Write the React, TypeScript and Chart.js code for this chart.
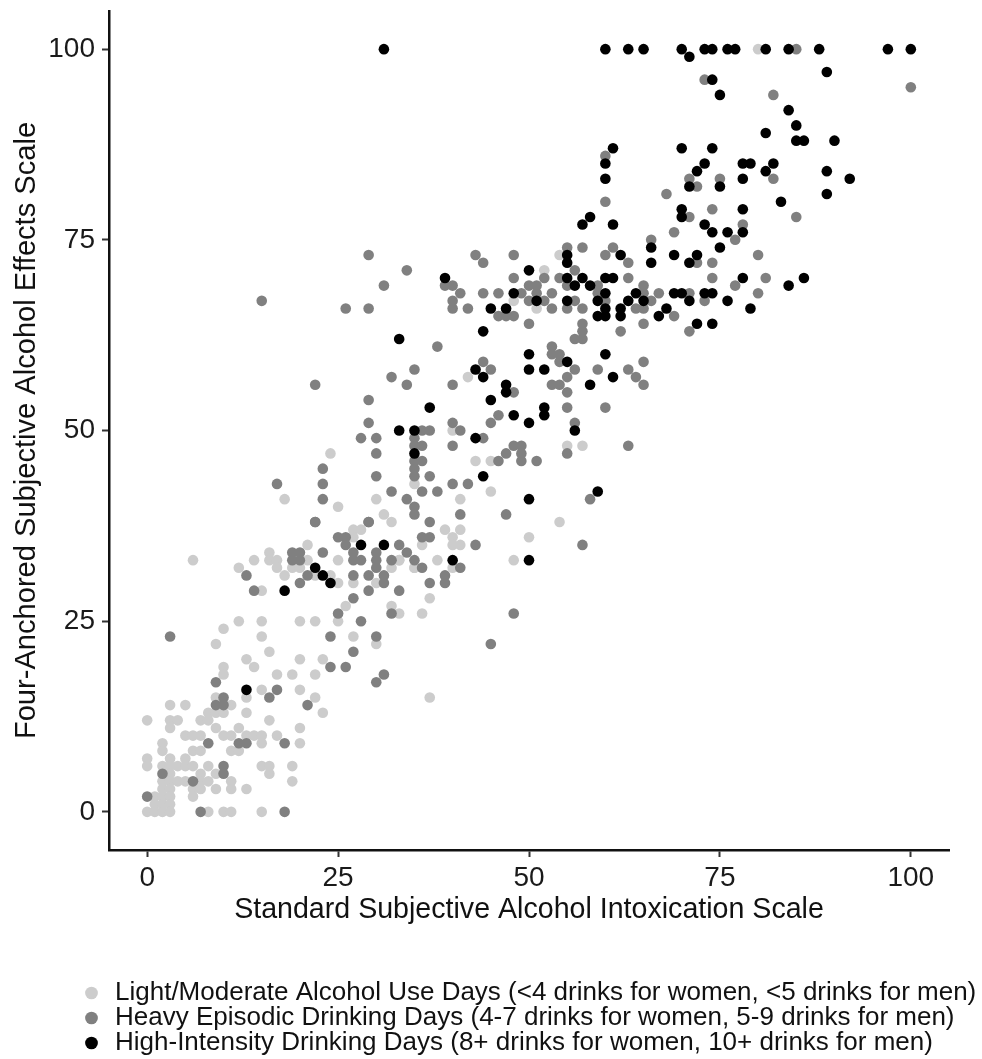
import { useEffect, useRef } from "react";
import { Chart, registerables } from "chart.js";

Chart.register(...registerables);

const seriesNames = [
  "Light/Moderate Alcohol Use Days (<4 drinks for women, <5 drinks for men)",
  "Heavy Episodic Drinking Days (4-7 drinks for women, 5-9 drinks for men)",
  "High-Intensity Drinking Days (8+ drinks for women, 10+ drinks for men)",
];
const seriesColors = ["#cccccc", "#808080", "#000000"];
const tickValues = [0, 25, 50, 75, 100];
const xTitle = "Standard Subjective Alcohol Intoxication Scale";
const yTitle = "Four-Anchored Subjective Alcohol Effects Scale";

const lightDays = [
  [6,33],[12,32],[14,33],[16,34],[16,33],[17,33],[17,32],[18,31],[19,32],[20,32],[21,35],[21,33],[22,31],[24,31],[25,33],[25,30],[27,30],[27,37],[28,37],[32,38],[32,32],[33,33],[35,32],[30,30],[15,29],[26,27],[25,25],[32,27],[33,26],[36,26],
  [12,25],[15,25],[20,25],[22,25],[10,24],[15,23],[9,22],[27,23],[30,22],[16,21],[13,20],[14,19],[20,20],[23,20],[10,19],[10,18],[17,18],[19,18],[22,18],[15,16],[20,16],[9,15],[13,15],[22,15],[3,14],[5,14],[11,14],[13,13],[23,13],[8,13],[9,13],[10,13],
  [0,12],[3,12],[4,12],[7,12],[8,12],[16,12],[3,11],[9,11],[12,11],[20,11],[5,10],[6,10],[7,10],[10,10],[11,10],[13,10],[14,10],[15,10],[17,10],[2,9],[15,9],[20,9],[2,8],[6,8],[7,8],[11,8],[12,8],[0,7],[3,7],[5,7],
  [0,6],[2,6],[3,6],[4,6],[5,6],[6,6],[8,6],[15,6],[16,6],[19,6],[3,5],[7,5],[9,5],[16,5],[2,4],[3,4],[4,4],[5,4],[7,4],[8,4],[11,4],[19,4],[2,3],[3,3],[6,3],[7,3],[9,3],[11,3],[13,3],[1,2],[2,2],[3,2],[6,2],[1,1],[2,1],[3,1],[0,0],[1,0],[2,0],[3,0],[8,0],[10,0],[11,0],[15,0],
  [54,73],[52,71],[48,67],[51,66],[42,57],[40,50],[55,48],[24,47],[43,46],[45,46],[35,43],[45,42],[18,41],[30,41],[41,41],[25,40],[31,39],[54,38],[39,37],[41,37],[40,36],[50,36],[80,100],
  [27,36],[40,35],[41,35],[36,35],[33,33],[38,33],[48,33],[40,32],[35,32],[37,28],[37,15],[57,48],
];

const heavyDays = [
  [3,23],[13,31],[14,29],[20,30],[19,34],[20,34],[19,33],[20,33],[23,34],[21,31],[25,36],[26,36],[26,35],[22,38],[29,38],[27,34],[27,33],[28,33],[30,34],[30,33],[30,32],[27,31],[29,31],[31,31],[31,30],[29,29],[33,29],[27,28],[33,35],[34,34],[35,33],[32,33],[36,36],[36,32],[25,26],[28,25],[32,26],[24,23],[30,23],[27,21],[24,19],[26,19],[31,18],[30,17],[9,17],[17,16],[16,15],[10,15],[9,14],[10,14],[21,14],[8,9],[12,9],[13,9],[18,9],[10,6],[10,5],[2,5],[6,4],[0,2],[7,0],[18,0],
  [15,67],[29,73],[43,73],[44,72],[48,73],[34,71],[31,69],[26,66],[29,66],[39,69],[40,69],[41,68],[40,67],[40,66],[42,66],[44,68],[46,68],[48,70],[49,68],[50,69],[51,69],[51,68],[50,67],[52,67],[52,70],[53,68],[53,66],[54,70],[55,74],[55,69],[55,66],[46,65],[47,65],[48,65],[50,64],[53,61],[53,60],[54,60],[54,59],[55,57],[53,56],[54,56],[55,55],[55,53],[44,59],[45,58],[38,61],[35,58],[32,57],[34,56],[40,56],[22,56],[29,54],[29,51],[40,51],[48,55],[46,52],[45,51],[36,50],[37,50],[41,50],[28,49],[30,49],[30,47],[35,49],[35,48],[36,48],[40,48],[44,49],[48,48],[49,48],[47,47],[49,47],[46,46],[49,46],[51,46],[55,47],[35,46],[36,46],[35,45],[23,45],[23,43],[17,43],[23,41],[30,44],[35,44],[37,44],[40,43],[42,43],[32,42],[36,42],[38,42],[34,41],[35,40],[35,39],[41,39],[47,39],[29,38],[22,38],[37,38],[37,36],
  [85,100],[73,96],[100,95],[82,94],[60,86],[71,83],[75,83],[82,83],[72,82],[68,81],[60,80],[74,79],[71,78],[85,78],[78,77],[69,76],[77,75],[66,75],[57,74],[61,74],[60,73],[80,73],[63,72],[72,72],[74,72],[56,71],[63,70],[74,70],[81,70],[59,69],[65,69],[77,69],[59,68],[65,68],[67,68],[71,68],[80,68],[56,67],[60,67],[66,67],[73,67],[57,66],[64,66],[65,66],[69,65],[57,64],[65,64],[57,63],[62,63],[71,63],[56,62],[57,62],
  [43,35],[57,35],[41,32],[39,31],[37,30],[39,30],[48,26],[45,22],[58,41],[56,58],[59,58],[63,58],[64,57],[65,56],[65,59],[60,53],[56,51],[63,48],
];

const highDays = [
  [28,35],[31,35],[22,32],[23,31],[24,30],[18,29],[13,16],
  [39,70],[50,71],[55,73],[55,72],[55,70],[48,68],[51,67],[55,67],[45,66],[47,66],[44,63],[33,62],[50,60],[55,59],[50,58],[52,58],[43,58],[44,57],[47,56],[47,55],[45,54],[37,53],[52,53],[52,52],[48,52],[50,51],[33,50],[35,50],[43,49],[35,47],[44,44],[50,41],
  [31,100],[60,100],[63,100],[65,100],[70,100],[73,100],[74,100],[76,100],[77,100],[81,100],[84,100],[88,100],[97,100],[100,100],
  [71,99],[74,96],[89,97],[75,94],[84,92],[85,90],[81,89],[85,88],[86,88],[90,88],[61,87],[70,87],[74,87],[60,85],[73,85],[78,85],[79,85],[82,85],[72,84],[81,84],[89,84],[60,83],[71,82],[75,82],[78,83],[92,83],[89,81],[83,80],[70,79],[70,78],[78,79],[58,78],[57,77],[61,77],[73,77],[74,76],[76,76],[78,76],[75,74],[66,74],[72,73],[69,73],[62,73],[66,72],[71,72],[57,70],[60,70],[61,70],[78,70],[86,70],[84,69],[56,69],[58,69],[60,68],[64,68],[69,68],[70,68],[73,68],[74,68],[59,67],[63,67],[65,67],[71,67],[76,67],[60,66],[62,66],[68,66],[79,66],[59,65],[60,65],[62,65],[67,65],[72,64],[74,64],
  [59,42],[40,33],[50,33],[60,60],[61,57],[58,56],[56,50],
];

const FONT = "'Liberation Sans', Arial, sans-serif";

const toPoints = (pairs: number[][]) => pairs.map(([x, y]) => ({ x, y }));

const placeLegend = {
  id: "placeLegend",
  afterLayout(chart: any) {
    const legend = chart.legend;
    legend.left = 82;
    legend.top = 981;
    legend.right = 982;
    legend.bottom = 1059;
  },
};

const clearPadding = (s: any) => {
  s.paddingTop = 0;
  s.paddingBottom = 0;
  s.paddingLeft = 0;
  s.paddingRight = 0;
};

export default function App() {
  const ref = useRef<HTMLCanvasElement>(null);
  useEffect(() => {
    if (!ref.current) return;
    const setTicks = (scale: any) => {
      scale.ticks = tickValues.map((value) => ({ value }));
    };
    const chart = new Chart(ref.current, {
      type: "scatter",
      plugins: [placeLegend],
      data: {
        datasets: [lightDays, heavyDays, highDays].map((pairs, i) => ({
          label: seriesNames[i],
          data: toPoints(pairs),
          backgroundColor: seriesColors[i],
          borderWidth: 0,
          pointRadius: 5.3,
          pointHoverRadius: 5.3,
          order: 3 - i,
        })),
      },
      options: {
        animation: false,
        responsive: false,
        layout: { padding: { left: 0, right: 33, top: 11, bottom: 0 } },
        plugins: {
          tooltip: { enabled: false },
          legend: {
            position: "bottom",
            align: "start",
            labels: {
              usePointStyle: true,
              pointStyle: "circle",
              boxWidth: 21,
              boxHeight: 9,
              padding: -1,
              color: "#111111",
              font: { family: FONT, size: 26 },
              sort: (a: any, b: any) => a.datasetIndex - b.datasetIndex,
            },
          },
        },
        scales: {
          x: {
            type: "linear",
            min: -5,
            max: 105,
            afterBuildTicks: setTicks,
            afterFit: (s: any) => {
              s.height = 124;
              clearPadding(s);
            },
            border: { display: true, color: "#111111", width: 2.5 },
            grid: { drawOnChartArea: false, drawTicks: true, tickLength: 7, tickColor: "#333333", tickWidth: 2 },
            ticks: { color: "#1a1a1a", font: { family: FONT, size: 28 }, padding: 4, maxRotation: 0, autoSkip: false },
            title: {
              display: true,
              text: xTitle,
              color: "#111111",
              font: { family: FONT, size: 28.6 },
              padding: { top: 4, bottom: 47 },
            },
          },
          y: {
            type: "linear",
            min: -5,
            max: 105,
            afterBuildTicks: setTicks,
            afterFit: (s: any) => {
              s.width = 109;
              clearPadding(s);
            },
            border: { display: true, color: "#111111", width: 2.5 },
            grid: { drawOnChartArea: false, drawTicks: true, tickLength: 7, tickColor: "#333333", tickWidth: 2 },
            ticks: { color: "#1a1a1a", font: { family: FONT, size: 28 }, padding: 7, autoSkip: false },
            title: {
              display: true,
              text: yTitle,
              color: "#111111",
              font: { family: FONT, size: 29.1 },
              padding: { top: 10, bottom: 4 },
            },
          },
        },
      },
    });
    return () => chart.destroy();
  }, []);
  return (
    <canvas
      ref={ref}
      width={982}
      height={1059}
      style={{ position: "absolute", left: 0, top: 0, display: "block", background: "#ffffff" }}
    />
  );
}
